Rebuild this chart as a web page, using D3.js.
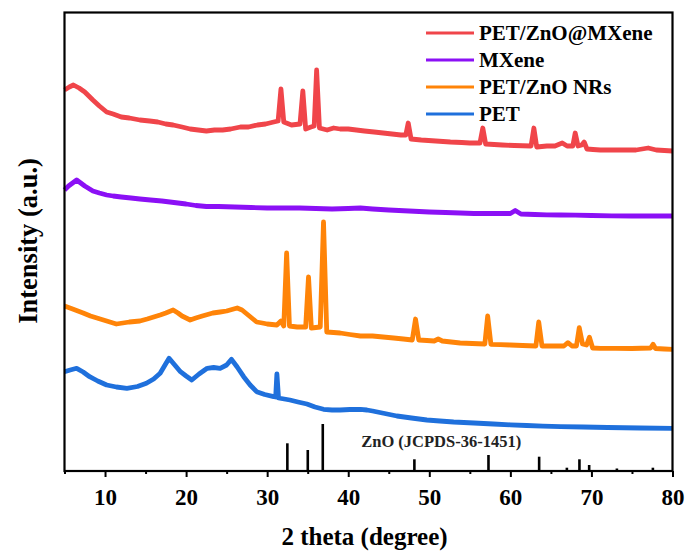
<!DOCTYPE html>
<html><head><meta charset="utf-8">
<script src="https://cdn.jsdelivr.net/npm/d3@7"></script>
<style>body{margin:0;background:#fff}svg{display:block}</style>
</head><body><svg id="c" width="686" height="558"></svg>
<script>
const seriesNames = ["PET/ZnO@MXene","MXene","PET/ZnO NRs","PET"];
const seriesColors = ["#f0454a","#8b10f5","#ff8408","#1f70dc"];
const xTicks = [10,20,30,40,50,60,70,80];
const xMinorTicks = [5,15,25,35,45,55,65,75];
// [2theta, intensity (a.u.)]
const redData = [[5,381],[5.6,384],[6.1,386],[6.8,383],[7.5,379],[8.5,371],[9.3,365],[10.2,359],[11,357],[12,354],[13,353],[14.3,351],[15.5,350],[16.5,349],[17.5,347],[18.4,346],[19.5,344],[20.5,342],[21.5,341],[22.5,340],[23.5,341],[24.5,341],[25.5,342],[26.7,344],[27.7,344],[28.8,346],[29.8,347],[30.8,349],[31.35,350],[31.7,382],[32.05,349],[33,346],[34.05,347],[34.4,380],[34.75,342],[35.4,344],[35.8,345],[36.1,401],[36.45,343],[37.4,341],[38.2,343],[39,342],[40,342],[41,341],[42,340],[43.2,339],[44.3,338],[45.4,337],[46.5,336],[47.1,336],[47.4,348],[47.75,332],[49,331],[50.8,330],[52.6,329],[54,328.5],[55,328],[56.25,328],[56.6,343],[56.95,327],[58,326.5],[59,326],[60.5,325.5],[62.55,325],[62.9,343],[63.25,324],[64.5,325],[65.5,325],[66.4,328],[67,325],[67.7,325],[68,338],[68.35,325],[68.8,326],[69.1,329],[69.45,322],[70.2,321.5],[71.1,321],[72.5,321],[74,321],[75.5,321],[77,323],[78,321],[79,320.5],[80,320]];
const purpleData = [[5,281],[5.5,285],[6.5,291],[7.5,285],[8.5,280],[9.3,278],[10.2,276],[11,275],[12,274],[13.2,273],[14.3,272],[15.6,271],[17,270],[18.5,268.5],[20,267],[21.2,265.5],[22.5,264.5],[24,264.5],[26,264],[28,263.5],[30,263],[32,263],[34,263],[36,262.5],[38,262],[40,262.5],[41.5,263],[43,262],[45,261],[47.5,260],[50,259],[52,258.5],[53.8,258],[55.5,257.5],[57,257.5],[58.5,257.5],[60,257.5],[60.6,260.5],[61.3,257],[63,256.5],[64.5,256.2],[66.2,256],[68,255.8],[70,255.5],[72.5,255.2],[75,255],[77.5,255],[80,255]];
const orangeData = [[5,165],[6,162],[7.3,158],[8.2,155],[9,153],[10.2,150],[11.4,147],[12.2,148],[13,149],[14.3,150],[15.2,152],[16,154],[16.8,156],[17.5,158],[18.4,161],[19,158],[19.5,155],[20.5,151],[21.2,153],[22,155],[23.3,158],[24.2,159],[25,160],[26.3,163],[26.9,161],[27.5,157],[28.1,153],[28.7,149],[29.4,148],[30,147],[30.6,146.5],[31.2,146],[31.7,150],[32.05,145],[32.4,218],[32.75,145],[33.7,144],[34.75,144],[35.1,194],[35.45,143],[36.55,144],[36.95,249],[37.35,139],[38.2,138.5],[39,138],[40.2,136.5],[41.5,135],[43,135],[44.3,134],[45.6,133],[46.8,132],[47.9,131],[48.3,152],[48.7,131],[49.7,130.5],[50.6,130],[51.1,132],[51.6,130],[52.7,129],[53.8,128],[55.3,127.5],[56.85,127],[57.2,155],[57.6,126.7],[58.8,126.3],[60,126],[61.5,125.5],[63.15,125],[63.5,149],[63.9,125],[65.2,125],[66.6,125],[67.1,128.3],[67.6,125],[68.15,125],[68.5,143.3],[68.9,127],[69.4,126],[69.75,133.7],[70.15,123],[71.1,122.7],[73,122.6],[75,122.5],[77.3,123],[77.6,126.7],[77.9,122.5],[79,122],[80,121.7]];
const blueData = [[5,99.3],[5.7,101],[6.5,102.7],[7.3,99],[8.1,94.3],[9.1,90],[10.2,86],[11.4,84],[12.7,82.7],[14,84.5],[15.1,87.7],[16,92],[16.8,97.7],[17.4,106],[17.9,112.7],[18.6,106],[19.3,99.3],[20,95],[20.7,91],[21.6,97],[22.6,102.7],[23.4,103.5],[24.2,102.7],[25,106],[25.6,111.7],[26.3,104],[27.1,94.3],[27.9,86],[28.7,79.3],[29.7,76.5],[30.8,74.3],[31.05,74],[31.2,97],[31.4,73],[32.1,72],[32.8,71],[33.8,69],[34.9,67],[35.9,64],[36.95,61.7],[38,61],[39,61],[40.2,61.5],[41.5,61.7],[42.3,61],[43,60],[44.5,57.5],[46,55],[47.8,53],[49.7,51],[51.3,50],[53,49],[55.5,48],[57.9,47],[60,46.2],[62,45.5],[64,44.8],[66.2,44.3],[69,44],[72,43.5],[76,43],[80,42.7]];
const seriesData = [redData, purpleData, orangeData, blueData];
const refPos = [32.49,35.01,36.86,48.16,57.30,63.55,66.97,68.52,69.72,73.14,77.58];
const refHeight = [27.7,21,47,11.7,16,14.3,3.3,11.7,6,2.5,3.3];
const refLabel = "ZnO (JCPDS-36-1451)";
const xTitle = "2 theta (degree)";
const yTitle = "Intensity (a.u.)";

const FONT = '"Liberation Serif"';
const svg = d3.select("#c");
const L=64.5, R=672.5, T=12.5, B=471;
const x = d3.scaleLinear().domain([5,80]).range([L,R]);
const y = d3.scaleLinear().domain([0,458.5]).range([B,T]);
function serif(sel, size){ return sel.style("font-family",FONT).style("font-weight","bold").style("font-size",size+"px"); }

// reference sticks
svg.append("g").selectAll("line").data(refPos).join("line")
  .attr("x1",d=>x(d)).attr("x2",d=>x(d))
  .attr("y1",y(0)).attr("y2",(d,i)=>y(refHeight[i]))
  .attr("stroke","#000").attr("stroke-width",2.6);
serif(svg.append("text").attr("x",x(41.6)).attr("y",447).attr("fill","#222").text(refLabel),16.5);

const line = d3.line().x(d=>x(d[0])).y(d=>y(d[1]));
seriesData.forEach((s,i)=>{
  svg.append("path").datum(s).attr("d",line).attr("fill","none")
    .attr("stroke",seriesColors[i]).attr("stroke-width",4.8).attr("stroke-linejoin","round");
});

// axes
const gx = svg.append("g").attr("transform",`translate(0,${B})`)
  .call(d3.axisBottom(x).tickValues(xTicks).tickSize(6).tickFormat(d3.format("d")));
gx.select(".domain").remove();
gx.selectAll(".tick line").attr("stroke","#000").attr("stroke-width",2);
serif(gx.selectAll(".tick text").attr("y",18).attr("fill","#000"),23);
svg.append("g").attr("transform",`translate(0,${B})`)
  .call(d3.axisBottom(x).tickValues(xMinorTicks).tickSize(3).tickFormat(""))
  .call(g=>g.select(".domain").remove())
  .selectAll(".tick line").attr("stroke","#000").attr("stroke-width",2);
svg.append("rect").attr("x",L).attr("y",T).attr("width",R-L).attr("height",B-T)
  .attr("fill","none").attr("stroke","#000").attr("stroke-width",2.2);

serif(svg.append("text").attr("x",(L+R)/2 - 4).attr("y",545).attr("text-anchor","middle").text(xTitle),25);
serif(svg.append("text").attr("transform","translate(37,241) rotate(-90)").attr("text-anchor","middle").text(yTitle),26.5);

// legend
const lg = svg.append("g");
seriesNames.forEach((n,i)=>{
  const yy = 33 + i*27;
  lg.append("line").attr("x1",426).attr("x2",474).attr("y1",yy).attr("y2",yy)
    .attr("stroke",seriesColors[i]).attr("stroke-width",3);
  serif(lg.append("text").attr("x",479).attr("y",yy+7).text(n),21);
});
</script></body></html>
